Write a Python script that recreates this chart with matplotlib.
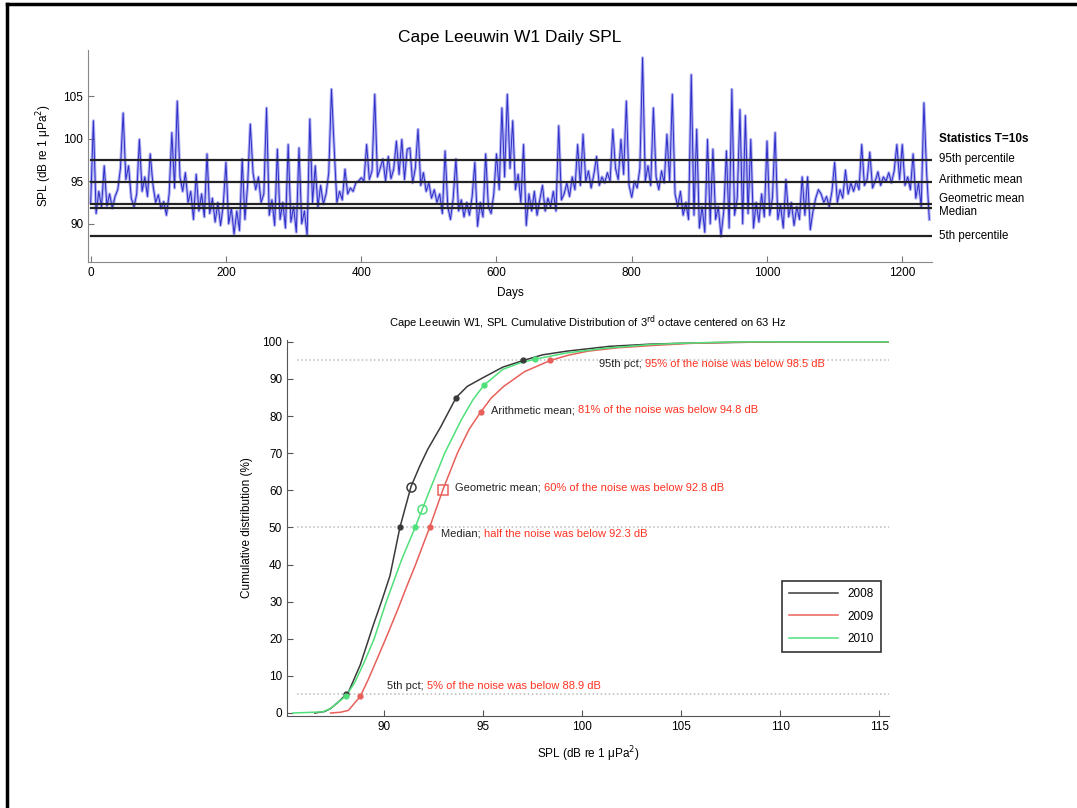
import numpy as np
import matplotlib
matplotlib.use("Agg")
import matplotlib.pyplot as plt
from matplotlib.lines import Line2D

plt.rcParams['font.family'] = ['Liberation Sans', 'DejaVu Sans']

# ---- daily SPL (one value every 4 days) ----
day_step = 4
spl = [
    92.5, 102.1, 91.2, 93.8, 92.0, 96.8, 92.1, 93.5, 91.8, 93.2,
    94.0, 96.5, 103.0, 95.2, 96.8, 93.0, 92.0, 93.5, 99.9, 93.8,
    95.5, 93.2, 98.2, 94.6, 92.5, 93.4, 91.8, 92.6, 91.0, 93.5,
    100.7, 94.2, 104.4, 95.5, 93.8, 96.0, 92.5, 93.8, 90.5, 95.8,
    91.5, 93.5, 90.8, 98.2, 91.2, 93.0, 90.2, 92.5, 89.8, 92.2,
    97.2, 90.0, 91.8, 88.8, 91.5, 89.2, 97.6, 90.5, 94.5, 101.7,
    96.0, 94.0, 95.5, 92.5, 93.5, 103.6, 91.0, 92.8, 89.8, 98.75,
    90.5, 92.5, 89.5, 99.3, 90.2, 92.0, 89.0, 98.9, 90.0, 91.5,
    88.6, 102.3, 92.5, 96.8, 92.0, 94.5, 92.3, 93.5, 96.0, 105.8,
    98.9, 92.5, 93.8, 92.8, 96.4, 93.5, 94.2, 93.8, 94.8, 95.0,
    95.4, 95.0, 99.3, 95.2, 96.2, 105.2, 95.5, 96.5, 97.6, 95.0,
    97.9, 95.3, 96.4, 99.7, 95.8, 99.9, 95.2, 98.75, 98.9, 94.8,
    96.5, 101.1, 94.5, 96.0, 93.8, 94.8, 93.0, 94.0, 92.5, 93.5,
    91.2, 98.55, 92.0, 90.5, 93.0, 97.6, 91.5, 92.8, 90.8, 92.5,
    91.0, 93.2, 97.2, 89.7, 92.5, 90.8, 98.2, 92.0, 91.2, 93.5,
    98.2, 94.0, 103.6, 95.5, 105.2, 96.5, 102.1, 94.0, 95.8, 92.5,
    99.3, 89.8, 93.5, 91.5, 93.8, 91.0, 92.8, 94.5, 91.5, 93.0,
    92.0, 93.8, 91.5, 101.5, 92.8, 93.5, 94.8, 93.2, 95.5, 94.0,
    99.3, 94.5, 100.5, 95.0, 96.2, 94.2, 95.8, 97.9, 94.5, 95.5,
    94.8, 96.0, 95.0, 101.1, 96.5, 95.2, 99.9, 95.8, 104.4, 94.5,
    93.1, 95.0, 94.2, 96.5, 109.5, 95.0, 96.8, 94.5, 103.6, 95.5,
    94.0, 96.2, 94.8, 100.5, 95.0, 105.2, 93.5, 92.0, 93.8, 91.0,
    92.5, 90.5, 107.5, 91.0, 101.1, 89.5, 92.0, 89.0, 99.9, 90.0,
    98.75, 90.5, 92.0, 88.5, 91.5, 98.55, 89.5, 105.8, 91.0, 93.0,
    103.4, 90.0, 102.7, 91.2, 99.9, 89.5, 92.5, 90.2, 93.5, 90.8,
    99.7, 91.0, 93.0, 100.7, 90.5, 92.2, 89.5, 95.2, 90.8, 92.5,
    89.8, 92.0, 90.5, 95.5, 91.0, 95.5, 89.3, 91.5, 93.0, 94.0,
    93.5, 92.5, 93.2, 92.0, 93.8, 97.2, 92.5, 94.0, 93.0, 96.3,
    93.5, 94.8, 93.8, 95.0, 94.0, 99.3, 94.5, 95.2, 98.4, 94.2,
    95.0, 96.1, 94.5, 95.5, 95.0, 96.0, 94.8, 96.2, 99.3, 95.2,
    99.3, 94.5, 95.5, 94.0, 98.2, 93.0, 94.8, 92.0, 104.2, 96.0,
    90.5,
]
days = np.arange(len(spl)) * day_step

stat_names = ["95th percentile", "Arithmetic mean", "Geometric mean", "Median", "5th percentile"]
stat_values = [97.5, 94.9, 92.35, 91.8, 88.5]
stat_label_y = [97.6, 95.1, 92.85, 91.35, 88.5]

# ---- cumulative distributions ----
years = ["2008", "2009", "2010"]
cdf_x = {
    "2008": [86.5, 87.0, 87.3, 87.7, 88.2, 88.8, 89.45, 89.9, 90.3, 90.8, 91.36, 91.8, 92.2, 92.85, 93.64,
             94.2, 94.98, 96.0, 97.04, 98.0, 99.23, 101.4, 103.5, 105.6, 109.9, 115.5],
    "2009": [87.3, 87.8, 88.2, 88.8, 89.2, 89.66, 90.2, 90.7, 91.1, 91.57, 92.3, 92.96, 93.7, 94.3, 94.87,
             95.4, 96.04, 97.1, 98.4, 99.3, 100.3, 101.8, 103.5, 105.5, 107.7, 112.0, 115.5],
    "2010": [85.4, 86.9, 87.3, 87.7, 88.06, 88.5, 89.0, 89.5, 90.1, 90.9, 91.57, 92.2, 93.06, 93.9, 94.5,
             95.04, 96.0, 96.8, 97.6, 99.2, 101.2, 103.5, 105.5, 107.7, 115.5],
}
cdf_y = {
    "2008": [0, 0.4, 1.2, 3.0, 5.6, 13.0, 23.6, 30.5, 37, 50, 61, 66.5, 71, 77, 85,
             88.0, 90.3, 93.2, 95, 96.5, 97.5, 98.8, 99.4, 99.7, 100, 100],
    "2009": [0, 0.2, 0.7, 4.5, 9.0, 14.7, 21.5, 28, 33.5, 39.7, 50, 60, 70, 76.5, 81,
             84.8, 88, 92, 95, 96.4, 97.5, 98.4, 99, 99.6, 99.9, 100, 100],
    "2010": [0, 0.3, 1.2, 3, 4.5, 8.0, 13.7, 20.0, 29.8, 41.5, 50, 58.6, 70, 79, 84.5,
             88.3, 92.6, 94.2, 95.3, 97, 98.3, 99.3, 99.7, 100, 100],
}
year_colors = {"2008": "#3a3a3a", "2009": "#e8605a", "2010": "#4fe07a"}

stat_x = {
    "2008": [88.1, 90.8, 93.64, 97.04],
    "2009": [88.8, 92.3, 94.87, 98.4],
    "2010": [88.06, 91.57, 95.04, 97.6],
}
stat_y = {
    "2008": [5, 50, 85, 95],
    "2009": [4.5, 50, 81, 95],
    "2010": [4.5, 50, 88.3, 95.3],
}
geo_x = {"2008": 91.35, "2009": 92.96, "2010": 91.94}
geo_y = {"2008": 61, "2009": 60, "2010": 55}
geo_marker = {"2008": "o", "2009": "s", "2010": "o"}

ref_levels = [95, 50, 5]
notes = [
    (100.86, 92.8, "95th pct; ", "95% of the noise was below 98.5 dB"),
    (95.4, 80.2, "Arithmetic mean; ", "81% of the noise was below 94.8 dB"),
    (93.6, 59.4, "Geometric mean; ", "60% of the noise was below 92.8 dB"),
    (92.9, 47.0, "Median; ", "half the noise was below 92.3 dB"),
    (90.15, 5.8, "5th pct; ", "5% of the noise was below 88.9 dB"),
]

fig = plt.figure(figsize=(10.77, 8.08), dpi=100)

# frame around the picture (top and left edges)
fig.add_artist(Line2D([0.0065, 0.0065], [0, 0.9945], transform=fig.transFigure, color="k", lw=2.5))
fig.add_artist(Line2D([0.0065, 1.0], [0.9945, 0.9945], transform=fig.transFigure, color="k", lw=2.5))

# ---- top panel ----
ax1 = fig.add_axes([0.0817, 0.6757, 0.7837, 0.2623])
ax1.plot(days, spl, color="#b0b0f2", lw=2.2, zorder=1)
ax1.plot(days, spl, color="#2e2ec8", lw=0.7, zorder=2)
for v in stat_values:
    ax1.axhline(v, xmin=0.003, xmax=0.999, color="#222222", lw=1.6, zorder=3)
ax1.set_xlim(-4, 1244)
ax1.set_ylim(85.5, 110.4)
ax1.set_xticks(range(0, 1201, 200))
ax1.set_yticks([90, 95, 100, 105])
ax1.tick_params(direction="in", length=4, labelsize=8.5, color="#777777")
for s in ["top", "right"]:
    ax1.spines[s].set_visible(False)
for s in ["left", "bottom"]:
    ax1.spines[s].set_color("#888888")
ax1.set_title("Cape Leeuwin W1 Daily SPL", fontsize=12.5, pad=6)
ax1.set_xlabel("Days", fontsize=8.5, labelpad=6)
ax1.set_ylabel("SPL (dB re 1 μPa$^2$)", fontsize=8.5, labelpad=7)
tr = ax1.get_yaxis_transform()
ax1.text(1.008, 99.9, "Statistics T=10s", transform=tr, fontsize=8.5, fontweight="bold", va="center")
for name, y in zip(stat_names, stat_label_y):
    ax1.text(1.008, y, name, transform=tr, fontsize=8.3, va="center")

# ---- bottom panel ----
ax2 = fig.add_axes([0.2665, 0.1139, 0.559, 0.4653])
for lv in ref_levels:
    ax2.plot([85.6, 115.5], [lv, lv], color="#bbbbbb", lw=1.1, ls=":", zorder=1)
for yr in years:
    ax2.plot(cdf_x[yr], cdf_y[yr], color=year_colors[yr], lw=1.1, label=yr, zorder=2)
    ax2.plot(stat_x[yr], stat_y[yr], "o", color=year_colors[yr], ms=3.5, zorder=3)
    ax2.plot(geo_x[yr], geo_y[yr], geo_marker[yr], mfc="none", mec=year_colors[yr], ms=6.5, mew=1.1, zorder=3)
for x, y, lab, msg in notes:
    t = ax2.text(x, y, lab, fontsize=8, color="#222222", va="bottom")
    ax2.annotate(msg, xy=(1, 0), xycoords=t, fontsize=8, color="#ff3322", va="bottom")
ax2.set_xlim(85.1, 115.5)
ax2.set_ylim(-0.8, 100.5)
ax2.set_xticks([90, 95, 100, 105, 110, 115])
ax2.set_yticks(range(0, 101, 10))
ax2.tick_params(direction="in", length=4, labelsize=8.5, color="#555555")
for s in ["top", "right"]:
    ax2.spines[s].set_visible(False)
for s in ["left", "bottom"]:
    ax2.spines[s].set_color("#555555")
ax2.set_title("Cape Leeuwin W1, SPL Cumulative Distribution of 3$^{\\mathrm{rd}}$ octave centered on 63 Hz",
              fontsize=8, pad=10)
ax2.set_xlabel("SPL (dB re 1 μPa$^2$)", fontsize=8.5, labelpad=8)
ax2.set_ylabel("Cumulative distribution (%)", fontsize=8.5, labelpad=7)
leg = ax2.legend(loc="upper right", bbox_to_anchor=(0.997, 0.375), fontsize=8.5,
                 handlelength=4.2, fancybox=False, edgecolor="#333333", framealpha=1,
                 borderpad=0.6, labelspacing=0.9)
leg.get_frame().set_linewidth(1.2)

fig.savefig("out.png", dpi=100)
